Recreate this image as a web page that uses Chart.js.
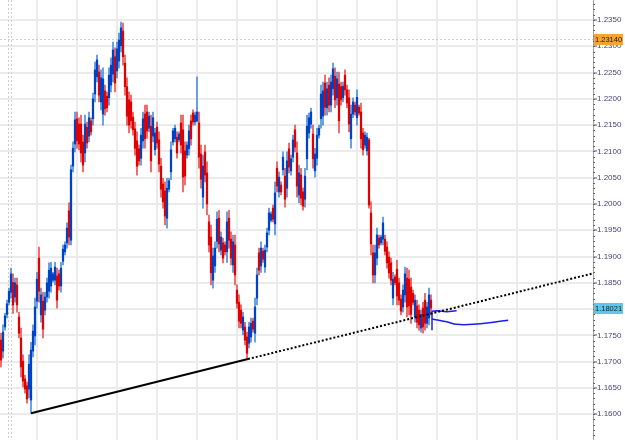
<!DOCTYPE html>
<html>
<head>
<meta charset="utf-8">
<script src="https://cdn.jsdelivr.net/npm/chart.js@4/dist/chart.umd.min.js"></script>
<style>
  html, body { margin: 0; padding: 0; background: #fff; }
  #wrap { width: 625px; height: 440px; }
</style>
</head>
<body>
<div id="wrap"><canvas id="myChart"></canvas></div>
<script>
// OHLC bars, one per period, oldest first
const opens = [
  1.1741, 1.1720, 1.1766, 1.1790, 1.1813, 1.1832, 1.1851, 1.1823, 1.1846, 1.1785,
  1.1745, 1.1701, 1.1667, 1.1654, 1.1648, 1.1627, 1.1720, 1.1749, 1.1815, 1.1897,
  1.1789, 1.1815, 1.1798, 1.1823, 1.1834, 1.1844, 1.1855, 1.1855, 1.1863, 1.1867,
  1.1844, 1.1891, 1.1909, 1.1926, 1.1987, 1.1931, 1.2072, 1.2114, 1.2162, 1.2152,
  1.2152, 1.2118, 1.2097, 1.2146, 1.2129, 1.2158, 1.2162, 1.2209, 1.2242, 1.2251,
  1.2194, 1.2171, 1.2215, 1.2205, 1.2202, 1.2226, 1.2247, 1.2280, 1.2253, 1.2272,
  1.2301, 1.2329, 1.2268, 1.2223, 1.2198, 1.2194, 1.2165, 1.2143, 1.2120, 1.2105,
  1.2087, 1.2120, 1.2171, 1.2175, 1.2144, 1.2148, 1.2129, 1.2103, 1.2146, 1.2122,
  1.2072, 1.2038, 1.2025, 1.1973, 1.2028, 1.2061, 1.2118, 1.2124, 1.2127, 1.2122,
  1.2154, 1.2141, 1.2101, 1.2093, 1.2105, 1.2158, 1.2173, 1.2156, 1.2158, 1.2154,
  1.2095, 1.2013, 1.2099, 1.2059, 1.1966, 1.1937, 1.1855, 1.1882, 1.1929, 1.1973,
  1.1912, 1.1926, 1.1922, 1.1909, 1.1973, 1.1933, 1.1884, 1.1922, 1.1836, 1.1813,
  1.1798, 1.1760, 1.1766, 1.1747, 1.1735, 1.1747, 1.1777, 1.1754, 1.1821, 1.1907,
  1.1882, 1.1910, 1.1880, 1.1918, 1.1950, 1.1969, 1.1992, 1.1962, 1.2068, 1.2023,
  1.2036, 1.2065, 1.2053, 1.2030, 1.2105, 1.2063, 1.2089, 1.2141, 1.2097, 1.2017,
  1.2055, 1.2023, 1.2009, 1.2086, 1.2135, 1.2152, 1.2133, 1.2063, 1.2087, 1.2131,
  1.2162, 1.2167, 1.2230, 1.2183, 1.2226, 1.2188, 1.2219, 1.2243, 1.2202, 1.2228,
  1.2223, 1.2202, 1.2245, 1.2217, 1.2202, 1.2124, 1.2171, 1.2188, 1.2164, 1.2184,
  1.2175, 1.2135, 1.2112, 1.2101, 1.2122, 1.1983, 1.1907, 1.1865, 1.1897, 1.1935,
  1.1926, 1.1933, 1.1933, 1.1918, 1.1899, 1.1888, 1.1821, 1.1861, 1.1876, 1.1850,
  1.1819, 1.1804, 1.1827, 1.1859, 1.1857, 1.1842, 1.1830, 1.1785, 1.1806, 1.1798,
  1.1764, 1.1802, 1.1817, 1.1773, 1.1783, 1.1817
];
const highs = [
  1.1754, 1.1770, 1.1792, 1.1817, 1.1840, 1.1878, 1.1867, 1.1859, 1.1859, 1.1794,
  1.1764, 1.1713, 1.1674, 1.1661, 1.1713, 1.1737, 1.1770, 1.1821, 1.1870, 1.1918,
  1.1840, 1.1832, 1.1832, 1.1859, 1.1888, 1.1889, 1.1870, 1.1889, 1.1878, 1.1874,
  1.1889, 1.1922, 1.1928, 1.1964, 1.2002, 1.2074, 1.2118, 1.2175, 1.2175, 1.2164,
  1.2169, 1.2131, 1.2169, 1.2156, 1.2175, 1.2164, 1.2211, 1.2270, 1.2283, 1.2264,
  1.2255, 1.2259, 1.2226, 1.2213, 1.2259, 1.2278, 1.2308, 1.2297, 1.2308, 1.2325,
  1.2346, 1.2344, 1.2283, 1.2240, 1.2213, 1.2207, 1.2175, 1.2156, 1.2137, 1.2112,
  1.2144, 1.2175, 1.2188, 1.2188, 1.2175, 1.2169, 1.2175, 1.2144, 1.2156, 1.2137,
  1.2087, 1.2049, 1.2042, 1.2049, 1.2049, 1.2118, 1.2144, 1.2150, 1.2137, 1.2137,
  1.2169, 1.2169, 1.2118, 1.2118, 1.2150, 1.2169, 1.2179, 1.2175, 1.2242, 1.2175,
  1.2112, 1.2093, 1.2112, 1.2080, 1.1979, 1.1960, 1.1916, 1.1928, 1.1985, 1.1988,
  1.1947, 1.1935, 1.1928, 1.1985, 1.1988, 1.1947, 1.1941, 1.1941, 1.1846, 1.1827,
  1.1808, 1.1794, 1.1775, 1.1756, 1.1775, 1.1783, 1.1783, 1.1821, 1.1878, 1.1916,
  1.1928, 1.1916, 1.1922, 1.1954, 1.1992, 1.1985, 1.1998, 1.2042, 1.2080, 1.2061,
  1.2042, 1.2099, 1.2068, 1.2099, 1.2116, 1.2093, 1.2131, 1.2150, 1.2118, 1.2074,
  1.2068, 1.2030, 1.2068, 1.2169, 1.2173, 1.2182, 1.2150, 1.2106, 1.2144, 1.2150,
  1.2226, 1.2232, 1.2245, 1.2232, 1.2240, 1.2245, 1.2268, 1.2259, 1.2251, 1.2251,
  1.2232, 1.2232, 1.2255, 1.2226, 1.2217, 1.2188, 1.2202, 1.2194, 1.2217, 1.2188,
  1.2192, 1.2144, 1.2137, 1.2135, 1.2125, 1.2004, 1.1922, 1.1922, 1.1954, 1.1941,
  1.1941, 1.1975, 1.1941, 1.1928, 1.1909, 1.1897, 1.1870, 1.1865, 1.1893, 1.1859,
  1.1827, 1.1846, 1.1880, 1.1878, 1.1874, 1.1859, 1.1836, 1.1827, 1.1817, 1.1808,
  1.1798, 1.1813, 1.1830, 1.1813, 1.1840, 1.1827
];
const lows = [
  1.1690, 1.1707, 1.1760, 1.1783, 1.1808, 1.1821, 1.1792, 1.1813, 1.1794, 1.1745,
  1.1671, 1.1652, 1.1640, 1.1621, 1.1631, 1.1602, 1.1709, 1.1732, 1.1802, 1.1813,
  1.1775, 1.1745, 1.1789, 1.1813, 1.1821, 1.1832, 1.1851, 1.1846, 1.1802, 1.1836,
  1.1832, 1.1884, 1.1903, 1.1916, 1.1922, 1.1922, 1.2061, 1.2099, 1.2106, 1.2103,
  1.2080, 1.2061, 1.2080, 1.2106, 1.2118, 1.2131, 1.2150, 1.2194, 1.2232, 1.2194,
  1.2179, 1.2150, 1.2169, 1.2175, 1.2188, 1.2213, 1.2232, 1.2213, 1.2240, 1.2259,
  1.2289, 1.2264, 1.2207, 1.2150, 1.2135, 1.2144, 1.2131, 1.2093, 1.2055, 1.2074,
  1.2074, 1.2106, 1.2106, 1.2125, 1.2137, 1.2061, 1.2118, 1.2093, 1.2106, 1.2061,
  1.2013, 1.1992, 1.1960, 1.1954, 1.2023, 1.2046, 1.2112, 1.2118, 1.2087, 1.2118,
  1.2097, 1.2023, 1.2036, 1.2087, 1.2093, 1.2112, 1.2150, 1.2150, 1.2156, 1.2068,
  1.2030, 1.1992, 1.2042, 1.1979, 1.1909, 1.1846, 1.1840, 1.1870, 1.1916, 1.1909,
  1.1903, 1.1888, 1.1903, 1.1889, 1.1916, 1.1884, 1.1870, 1.1846, 1.1802, 1.1764,
  1.1764, 1.1751, 1.1732, 1.1707, 1.1726, 1.1737, 1.1756, 1.1737, 1.1808, 1.1865,
  1.1870, 1.1889, 1.1870, 1.1909, 1.1941, 1.1966, 1.1966, 1.1941, 1.2023, 1.2013,
  1.2017, 1.2055, 1.1994, 1.2013, 1.2059, 1.2055, 1.2080, 1.2099, 1.2013, 1.2002,
  1.1998, 1.1988, 1.1994, 1.2065, 1.2125, 1.2144, 1.2068, 1.2051, 1.2074, 1.2125,
  1.2144, 1.2150, 1.2169, 1.2169, 1.2175, 1.2175, 1.2207, 1.2183, 1.2188, 1.2135,
  1.2188, 1.2194, 1.2207, 1.2183, 1.2137, 1.2106, 1.2164, 1.2169, 1.2150, 1.2169,
  1.2106, 1.2093, 1.2106, 1.2093, 1.1992, 1.1903, 1.1850, 1.1850, 1.1884, 1.1916,
  1.1922, 1.1922, 1.1903, 1.1878, 1.1859, 1.1846, 1.1808, 1.1846, 1.1808, 1.1808,
  1.1789, 1.1794, 1.1813, 1.1785, 1.1789, 1.1773, 1.1808, 1.1775, 1.1764, 1.1760,
  1.1756, 1.1754, 1.1760, 1.1764, 1.1770, 1.1789
];
const closes = [
  1.1703, 1.1756, 1.1787, 1.1810, 1.1834, 1.1867, 1.1808, 1.1850, 1.1808, 1.1754,
  1.1690, 1.1663, 1.1648, 1.1629, 1.1695, 1.1722, 1.1758, 1.1804, 1.1857, 1.1834,
  1.1827, 1.1762, 1.1823, 1.1850, 1.1874, 1.1878, 1.1867, 1.1880, 1.1817, 1.1844,
  1.1878, 1.1914, 1.1922, 1.1954, 1.1937, 1.2065, 1.2106, 1.2160, 1.2120, 1.2114,
  1.2097, 1.2074, 1.2152, 1.2116, 1.2164, 1.2137, 1.2200, 1.2255, 1.2274, 1.2207,
  1.2240, 1.2238, 1.2181, 1.2183, 1.2245, 1.2264, 1.2293, 1.2230, 1.2295, 1.2312,
  1.2335, 1.2280, 1.2223, 1.2167, 1.2150, 1.2158, 1.2141, 1.2106, 1.2072, 1.2082,
  1.2131, 1.2162, 1.2124, 1.2139, 1.2167, 1.2082, 1.2164, 1.2135, 1.2116, 1.2076,
  1.2028, 1.2004, 1.1977, 1.2030, 1.2044, 1.2103, 1.2139, 1.2144, 1.2097, 1.2133,
  1.2112, 1.2051, 1.2053, 1.2112, 1.2139, 1.2124, 1.2156, 1.2169, 1.2175, 1.2089,
  1.2047, 1.2072, 1.2055, 1.2000, 1.1922, 1.1869, 1.1901, 1.1916, 1.1971, 1.1924,
  1.1937, 1.1897, 1.1909, 1.1966, 1.1931, 1.1897, 1.1928, 1.1865, 1.1811, 1.1777,
  1.1773, 1.1785, 1.1741, 1.1716, 1.1766, 1.1773, 1.1762, 1.1804, 1.1865, 1.1874,
  1.1916, 1.1895, 1.1912, 1.1945, 1.1983, 1.1981, 1.1971, 1.2021, 1.2034, 1.2051,
  1.2023, 1.2089, 1.2009, 1.2082, 1.2070, 1.2086, 1.2122, 1.2108, 1.2034, 1.2059,
  1.2011, 1.1996, 1.2053, 1.2148, 1.2164, 1.2175, 1.2086, 1.2095, 1.2131, 1.2144,
  1.2209, 1.2215, 1.2184, 1.2219, 1.2188, 1.2232, 1.2257, 1.2198, 1.2238, 1.2158,
  1.2198, 1.2224, 1.2217, 1.2192, 1.2152, 1.2171, 1.2194, 1.2175, 1.2203, 1.2173,
  1.2124, 1.2103, 1.2131, 1.2127, 1.1998, 1.1924, 1.1865, 1.1907, 1.1941, 1.1922,
  1.1937, 1.1964, 1.1910, 1.1888, 1.1869, 1.1855, 1.1857, 1.1850, 1.1825, 1.1817,
  1.1796, 1.1836, 1.1867, 1.1804, 1.1806, 1.1790, 1.1813, 1.1817, 1.1775, 1.1770,
  1.1790, 1.1766, 1.1773, 1.1804, 1.1827, 1.1802
];

// support trend line (bar position, price)
const trendX = [15, 123.5, 296];
const trendY = [1.1602, 1.1705, 1.1868];

// hand drawn projection in blue
const sketchStemX = [215.5, 215.5];
const sketchStemY = [1.1760, 1.1796];
const sketchTopX = [215.5, 218, 222.8, 227.8];
const sketchTopY = [1.1796, 1.1797, 1.1795, 1.1797];
const sketchCurveX = [215.5, 222.8, 227.8, 236, 247.8, 253.6];
const sketchCurveY = [1.1781, 1.1776, 1.1771, 1.1771, 1.1776, 1.1779];

const highMark = 1.23140;
const lastPrice = 1.18021;
const sessionBreaks = [3.65, 4.85];

const priceMin = 1.1551;
const priceMax = 1.2388;

const BLUE_BODY = '#0042c4';
const BLUE_WICK = '#4b90dc';
const RED_BODY = '#e00000';
const RED_WICK = '#ec5050';

const isUp = opens.map((o, i) => closes[i] >= o);

const pts = (xs, ys) => xs.map((x, i) => ({ x: x, y: ys[i] }));

const priceTags = {
  id: 'priceTags',
  beforeDatasetsDraw(chart) {
    const { ctx, chartArea, scales } = chart;
    const y = scales.y, x = scales.x;
    ctx.save();
    ctx.strokeStyle = '#cfcfcf';
    ctx.lineWidth = 1;
    ctx.setLineDash([2, 2]);
    const hy = Math.round(y.getPixelForValue(highMark)) + 0.5;
    ctx.beginPath();
    ctx.moveTo(chartArea.left, hy);
    ctx.lineTo(chartArea.right, hy);
    ctx.stroke();
    sessionBreaks.forEach(v => {
      const px = Math.round(x.getPixelForValue(v)) + 0.5;
      ctx.beginPath();
      ctx.moveTo(px, chartArea.top);
      ctx.lineTo(px, chartArea.bottom);
      ctx.stroke();
    });
    ctx.restore();
  },
  afterDraw(chart) {
    const { ctx, scales } = chart;
    const y = scales.y;
    ctx.save();
    // minor ticks
    ctx.strokeStyle = '#666';
    ctx.lineWidth = 1;
    for (let k = 1156; k <= 1238; k++) {
      const py = Math.round(y.getPixelForValue(k / 1000)) + 0.5;
      ctx.beginPath();
      ctx.moveTo(y.left, py);
      ctx.lineTo(y.left + 2, py);
      ctx.stroke();
    }
    const tag = (val, bg) => {
      const py = y.getPixelForValue(val);
      ctx.fillStyle = bg;
      ctx.fillRect(y.left + 1, Math.round(py) - 5, 29, 11);
      ctx.fillStyle = '#1a1a1a';
      ctx.font = '7.5px "Liberation Sans"';
      ctx.textBaseline = 'middle';
      ctx.textAlign = 'left';
      ctx.fillText(val.toFixed(5), y.left + 2, Math.round(py) + 0.5);
    };
    tag(highMark, '#f5a434');
    tag(lastPrice, '#5cc6f2');
    ctx.restore();
  }
};

const data = {
  datasets: [
    {
      type: 'line',
      data: pts(trendX.slice(0, 2), trendY.slice(0, 2)),
      borderColor: '#000',
      borderWidth: 2,
      pointRadius: 0,
      order: 0
    },
    {
      type: 'line',
      data: pts(trendX.slice(1), trendY.slice(1)),
      borderColor: '#000',
      borderWidth: 2,
      borderDash: [2, 2],
      pointRadius: 0,
      order: 0
    },
    {
      type: 'line',
      data: pts(sketchStemX, sketchStemY),
      borderColor: '#1c1cf0',
      borderWidth: 1.5,
      pointRadius: 0,
      order: 0
    },
    {
      type: 'line',
      data: pts(sketchTopX, sketchTopY),
      borderColor: '#1c1cf0',
      borderWidth: 1.5,
      pointRadius: 0,
      order: 0
    },
    {
      type: 'line',
      data: pts(sketchCurveX, sketchCurveY),
      borderColor: '#1c1cf0',
      borderWidth: 1.5,
      tension: 0.4,
      pointRadius: 0,
      order: 0
    },
    {
      type: 'bar',
      data: highs.map((h, i) => ({ x: i, y: [lows[i], h] })),
      backgroundColor: isUp.map(u => u ? BLUE_WICK : RED_WICK),
      barThickness: 1,
      grouped: false,
      order: 2
    },
    {
      type: 'bar',
      data: opens.map((o, i) => ({ x: i, y: [o, closes[i]] })),
      backgroundColor: isUp.map(u => u ? BLUE_BODY : RED_BODY),
      barThickness: 1.6,
      grouped: false,
      order: 1
    }
  ]
};

const config = {
  type: 'bar',
  data: data,
  options: {
    responsive: true,
    maintainAspectRatio: false,
    animation: false,
    layout: { padding: 0 },
    plugins: {
      legend: { display: false },
      tooltip: { enabled: false }
    },
    scales: {
      x: {
        type: 'linear',
        min: -0.5,
        max: 296,
        offset: false,
        afterBuildTicks: (scale) => {
          const t = [];
          for (let v = 7.85; v < 296; v += 20) t.push({ value: v });
          scale.ticks = t;
        },
        ticks: { display: false },
        grid: { color: '#ebebeb', lineWidth: 2, drawTicks: false },
        border: { display: false }
      },
      y: {
        type: 'linear',
        position: 'right',
        min: priceMin,
        max: priceMax,
        afterFit: (scale) => {
          scale.width = 32;
          scale.paddingTop = 0;
          scale.paddingBottom = 0;
        },
        ticks: {
          stepSize: 0.005,
          includeBounds: false,
          padding: 0,
          color: '#45457a',
          font: { family: 'Liberation Sans', size: 8 },
          callback: (v) => v.toFixed(4)
        },
        grid: {
          color: '#ebebeb',
          lineWidth: 2,
          tickLength: 4,
          tickColor: '#555',
          tickWidth: 1
        },
        border: { color: '#a0a0a0', width: 1 }
      }
    }
  },
  plugins: [priceTags]
};

const myChart = new Chart(document.getElementById('myChart'), config);
</script>
</body>
</html>
